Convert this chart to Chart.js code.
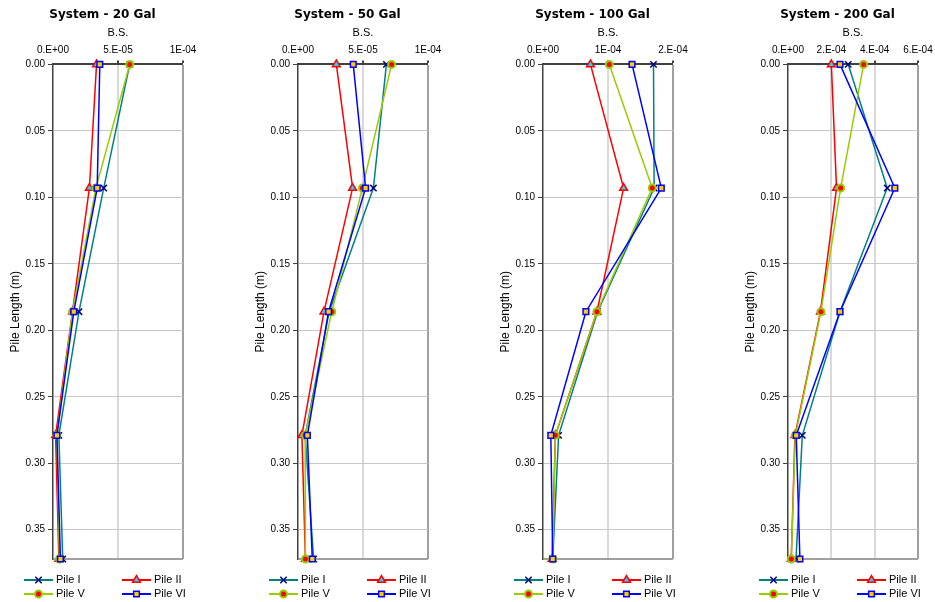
<!DOCTYPE html>
<html><head><meta charset="utf-8">
<script src="https://cdn.jsdelivr.net/npm/chart.js@4/dist/chart.umd.min.js"></script>
<style>
html,body{margin:0;padding:0;background:#fff;overflow:hidden;width:935px;height:602px;}
.c{position:absolute;top:0;width:245px;height:602px;}
</style></head><body>
<div class="c" style="left:0px"><canvas id="c0" width="245" height="602"></canvas></div>
<div class="c" style="left:245px"><canvas id="c1" width="245" height="602"></canvas></div>
<div class="c" style="left:490px"><canvas id="c2" width="245" height="602"></canvas></div>
<div class="c" style="left:735px"><canvas id="c3" width="245" height="602"></canvas></div>
<script>
// ---- data ----
const depths = [0, 0.093, 0.186, 0.279, 0.372];
const yMax = 0.372;
const yTicks = [0, 0.05, 0.10, 0.15, 0.20, 0.25, 0.30, 0.35];
const yLabels = ['0.00','0.05','0.10','0.15','0.20','0.25','0.30','0.35'];
const seriesNames = ['Pile I', 'Pile II', 'Pile V', 'Pile VI'];
const chartTitles = ['System - 20 Gal', 'System - 50 Gal', 'System - 100 Gal', 'System - 200 Gal'];

const pileI_20  = [5.9e-5, 3.9e-5, 2.0e-5, 0.45e-5, 0.75e-5];
const pileII_20 = [3.35e-5, 2.8e-5, 1.5e-5, 0.2e-5, 0.45e-5];
const pileV_20  = [5.9e-5, 3.3e-5, 1.5e-5, 0.3e-5, 0.5e-5];
const pileVI_20 = [3.6e-5, 3.4e-5, 1.6e-5, 0.3e-5, 0.57e-5];

const pileI_50  = [6.8e-5, 5.8e-5, 2.4e-5, 0.55e-5, 1.2e-5];
const pileII_50 = [2.95e-5, 4.2e-5, 2.0e-5, 0.3e-5, 0.57e-5];
const pileV_50  = [7.2e-5, 4.95e-5, 2.6e-5, 0.55e-5, 0.57e-5];
const pileVI_50 = [4.25e-5, 5.2e-5, 2.35e-5, 0.72e-5, 1.1e-5];

const pileI_100  = [1.70e-4, 1.71e-4, 0.84e-4, 0.24e-4, 0.15e-4];
const pileII_100 = [0.73e-4, 1.24e-4, 0.83e-4, 0.19e-4, 0.14e-4];
const pileV_100  = [1.02e-4, 1.68e-4, 0.83e-4, 0.19e-4, 0.15e-4];
const pileVI_100 = [1.37e-4, 1.82e-4, 0.66e-4, 0.12e-4, 0.15e-4];

const pileI_200  = [2.78e-4, 4.58e-4, 2.4e-4, 0.66e-4, 0.37e-4];
const pileII_200 = [2.0e-4, 2.24e-4, 1.5e-4, 0.32e-4, 0.15e-4];
const pileV_200  = [3.49e-4, 2.43e-4, 1.52e-4, 0.34e-4, 0.15e-4];
const pileVI_200 = [2.4e-4, 4.93e-4, 2.4e-4, 0.38e-4, 0.55e-4];

const xTicks20 = [0, 5e-5, 1e-4];   const xLabels20 = ['0.E+00', '5.E-05', '1E-04'];
const xTicks50 = [0, 5e-5, 1e-4];   const xLabels50 = ['0.E+00', '5.E-05', '1E-04'];
const xTicks100 = [0, 1e-4, 2e-4];  const xLabels100 = ['0.E+00', '1E-04', '2.E-04'];
const xTicks200 = [0, 2e-4, 4e-4, 6e-4]; const xLabels200 = ['0.E+00', '2.E-04', '4.E-04', '6.E-04'];

// ---- styles ----
const lineColors = ['#008080', '#FF0000', '#99CC00', '#0000FF'];
const pointStyles = ['crossRot', 'triangle', 'circle', 'rect'];
const pointRadii = [4.5, 4.5, 3.5, 4];
const pointFills = ['#000080', '#33CCFF', '#FF0000', '#FFCC00'];
const pointBorders = ['#000080', '#FF0000', '#99CC00', '#0000FF'];
const pointBorderWidths = [1.5, 1.5, 2, 1.5];

const legendPlugin = {
  id: 'customLegend',
  afterDraw(chart) {
    const ctx = chart.ctx;
    const cols = [24, 122], rows = [580, 594], len = 29;
    chart.data.datasets.forEach((d, i) => {
      const x0 = cols[i % 2], y = rows[Math.floor(i / 2)];
      ctx.save();
      ctx.strokeStyle = d.borderColor; ctx.lineWidth = 2;
      ctx.beginPath(); ctx.moveTo(x0, y); ctx.lineTo(x0 + len, y); ctx.stroke();
      ctx.fillStyle = d.pointBackgroundColor; ctx.strokeStyle = d.pointBorderColor;
      ctx.lineWidth = d.pointBorderWidth;
      Chart.helpers.drawPoint(ctx, {pointStyle: d.pointStyle, radius: d.pointRadius, borderWidth: d.pointBorderWidth, rotation: 0}, x0 + len / 2, y);
      ctx.fillStyle = '#000'; ctx.font = '11px "Liberation Sans", Arial, sans-serif';
      ctx.textBaseline = 'middle'; ctx.textAlign = 'left';
      ctx.fillText(d.label, x0 + len + 3, y);
      ctx.restore();
    });
  }
};

function makeChart(id, title, xTicks, xLabels, series) {
  const datasets = series.map((vals, i) => ({
    label: seriesNames[i],
    data: vals.map((v, k) => ({x: v, y: depths[k]})),
    showLine: true, fill: false, tension: 0, clip: false,
    borderColor: lineColors[i], borderWidth: 1.5,
    pointStyle: pointStyles[i], pointRadius: pointRadii[i],
    pointBackgroundColor: pointFills[i], pointBorderColor: pointBorders[i],
    pointBorderWidth: pointBorderWidths[i],
    order: 4 - i
  }));
  const xLast = xTicks.length - 1;
  new Chart(document.getElementById(id), {
    type: 'scatter',
    data: {datasets},
    options: {
      responsive: false, animation: false, devicePixelRatio: 1,
      layout: {padding: {left: 0, right: 40, top: 0, bottom: 43}},
      plugins: {
        legend: {display: false}, tooltip: {enabled: false},
        title: {display: true, text: title, color: '#000',
          font: {family: '"DejaVu Sans", Verdana, sans-serif', size: 12, weight: 'bold'},
          padding: {top: 8, bottom: 2}}
      },
      scales: {
        x: {
          type: 'linear', position: 'top', min: 0, max: xTicks[xLast],
          afterBuildTicks: s => { s.ticks = xTicks.map(v => ({value: v})); },
          afterFit: s => { s.height = 40; },
          ticks: {callback: (v, i) => xLabels[i], color: '#000', padding: 4, maxRotation: 0, autoSkip: false,
            font: {family: '"Liberation Sans", Arial, sans-serif', size: 10}},
          title: {display: true, text: 'B.S.', color: '#000', padding: {top: 2, bottom: 4},
            font: {family: '"Liberation Sans", Arial, sans-serif', size: 11}},
          grid: {
            color: c => c.index === 0 ? 'rgba(0,0,0,0)' : (c.index === xLast ? '#a0a0a0' : '#d9d9d9'),
            lineWidth: c => c.index === 0 ? 0 : 2,
            tickColor: '#404040', tickLength: 4
          },
          border: {color: '#404040', width: 2}
        },
        y: {
          type: 'linear', reverse: true, min: 0, max: yMax,
          afterBuildTicks: s => { s.ticks = yTicks.concat([yMax]).map(v => ({value: v})); },
          afterFit: s => { s.width = 53; },
          ticks: {callback: (v, i) => i < yLabels.length ? yLabels[i] : '', color: '#000', padding: 3, autoSkip: false,
            font: {family: '"Liberation Sans", Arial, sans-serif', size: 10}},
          title: {display: true, text: 'Pile Length (m)', color: '#000', padding: {top: 8, bottom: 2},
            font: {family: '"Liberation Sans", Arial, sans-serif', size: 12}},
          grid: {
            color: c => c.index === 0 ? 'rgba(0,0,0,0)' : (c.index === yTicks.length ? '#a0a0a0' : '#c8c8c8'),
            lineWidth: c => c.index === yTicks.length ? 2 : 1,
            tickColor: c => c.index === yTicks.length ? 'rgba(0,0,0,0)' : '#404040', tickLength: 5
          },
          border: {color: '#404040', width: 1.5}
        },
        yR: {
          type: 'linear', position: 'right', display: true,
          grid: {display: false}, ticks: {display: false}, border: {display: false},
          afterFit: s => { s.width = 22; }
        }
      }
    },
    plugins: [legendPlugin]
  });
}

makeChart('c0', chartTitles[0], xTicks20, xLabels20, [pileI_20, pileII_20, pileV_20, pileVI_20]);
makeChart('c1', chartTitles[1], xTicks50, xLabels50, [pileI_50, pileII_50, pileV_50, pileVI_50]);
makeChart('c2', chartTitles[2], xTicks100, xLabels100, [pileI_100, pileII_100, pileV_100, pileVI_100]);
makeChart('c3', chartTitles[3], xTicks200, xLabels200, [pileI_200, pileII_200, pileV_200, pileVI_200]);
</script>
</body></html>
